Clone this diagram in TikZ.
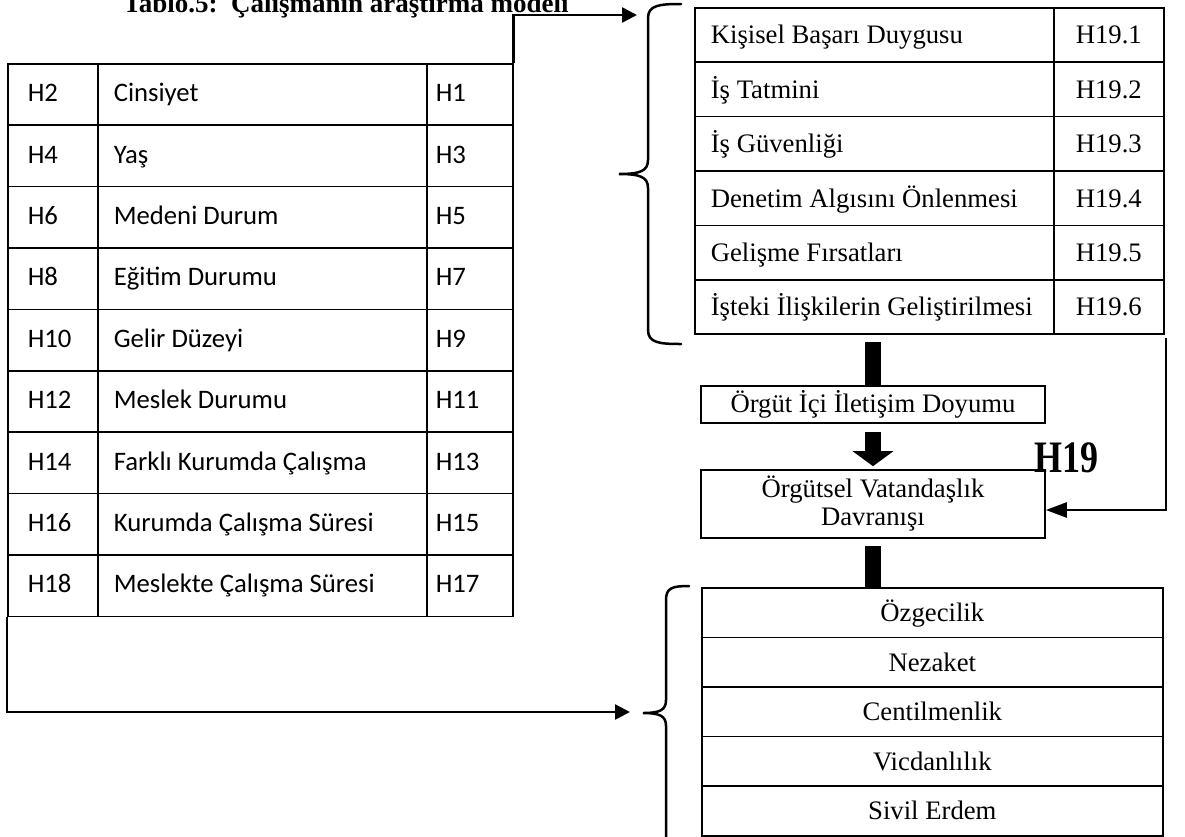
\documentclass[tikz,border=0pt]{standalone}
\usepackage{fontspec}
\usepackage{graphicx}
\setmainfont{Liberation Serif}
\newfontfamily\calfont{Carlito}
\usetikzlibrary{arrows.meta}
\newcommand\natsp{\spaceskip=0pt\relax\xspaceskip=0pt\relax}
\begin{document}
\begin{tikzpicture}[x=1pt,y=-1pt,
  lcell/.style={draw=black, line width=1.6pt, anchor=north west, minimum height=61.4pt, inner ysep=0pt, text height=18pt, text depth=3.6pt, align=left, font=\calfont\fontsize{26.7pt}{30pt}\selectfont},
  rcell/.style={draw=black, line width=1.6pt, anchor=north west, minimum height=54.4pt, inner ysep=0pt, text height=20pt, text depth=2.3pt, font=\fontsize{26.7pt}{30pt}\selectfont},
  bcell/.style={rcell, minimum height=49.6pt, minimum width=461pt, inner xsep=0pt, align=center},
  midbox/.style={draw=black, line width=1.6pt, minimum width=344pt, inner sep=0pt, align=center, font=\fontsize{26.7pt}{28pt}\selectfont},
  conn/.style={line width=2.5pt, -{Triangle[length=15pt,width=15pt]}},
  bar/.style={line width=16pt},
  bracestyle/.style={line width=2.5pt, line cap=round},
]
\useasboundingbox (0,0) rectangle (1185,836);

% title (cut at the top edge, as in the reference)
\node[anchor=base, inner sep=0pt, font=\bfseries\fontsize{27pt}{30pt}\selectfont] (title) at (346,12) {\natsp Tablo.5:\ \ Çalışmanın araştırma modeli};

% left table
\foreach \a/\b/\c [count=\i from 0] in {H2/Cinsiyet/H1, H4/Yaş/H3, H6/Medeni Durum/H5, H8/Eğitim Durumu/H7, H10/Gelir Düzeyi/H9, H12/Meslek Durumu/H11, H14/Farklı Kurumda Çalışma/H13, H16/Kurumda Çalışma Süresi/H15, H18/Meslekte Çalışma Süresi/H17}{
  \node[lcell, inner xsep=20pt, text width=50pt] (la\i) at (7,{63+61.4*\i}) {\a};
  \node[lcell, inner xsep=16pt, text width=297pt] (lb\i) at (97,{63+61.4*\i}) {\natsp\b};
  \node[lcell, inner xsep=9pt, text width=68pt] (lc\i) at (426,{63+61.4*\i}) {\c};
}

% right top table
\foreach \t/\h [count=\i from 0] in {Kişisel Başarı Duygusu/H19.1, İş Tatmini/H19.2, İş Güvenliği/H19.3, Denetim Algısını Önlenmesi/H19.4, Gelişme Fırsatları/H19.5, İşteki İlişkilerin Geliştirilmesi/H19.6}{
  \node[rcell, inner xsep=16pt, text width=327pt, align=left] (rt\i) at (694,{7+54.4*\i}) {\natsp\t};
  \node[rcell, inner xsep=5pt, text width=100pt, align=center] (rh\i) at (1053,{7+54.4*\i}) {\h};
}

% middle boxes
\node[midbox, minimum height=37pt] (oii) at (873,404.5) {\natsp Örgüt İçi İletişim Doyumu};
\node[midbox, minimum height=68pt] (ovd) at (873,504) {\natsp Örgütsel Vatandaşlık\\Davranışı};

\node[inner sep=0pt, font=\bfseries\fontsize{45pt}{45pt}\selectfont] (h19) at (1066,458) {\scalebox{0.8}[1]{H19}};

% bottom table
\foreach \t [count=\i from 0] in {Özgecilik, Nezaket, Centilmenlik, Vicdanlılık, Sivil Erdem}{
  \node[bcell] (bt\i) at (701,{587+49.6*\i}) {\natsp\t};
}

% connectors
\coordinate (tarrow) at (637,15);
\draw[conn] (lc0.north east) |- (tarrow);
\coordinate (larrow) at (630,712);
\draw[conn] (la8.south west) |- (larrow);
\coordinate (rstart) at (1166,338);
\draw[line width=2.5pt, -{Triangle[length=21pt,width=15pt]}] (rstart) |- ([yshift=-6pt]ovd.east);

% thick bars
\coordinate (b1) at (873,342);
\draw[bar] (b1) -- (oii.north);
\coordinate (b2) at (873,432);
\draw[bar, -{Triangle[length=15pt,width=40pt]}] (b2) -- ([yshift=3pt]ovd.north);
\coordinate (b3) at (873,546);
\draw[bar] (b3) -- (b3 |- bt0.north);

% braces
\draw[bracestyle] (681,4) .. controls (660,4) and (648,5) .. (648,18) -- (648,160) .. controls (648,171) and (640,174) .. (619,174) .. controls (640,174) and (648,177) .. (648,188) -- (648,330) .. controls (648,343) and (660,344) .. (681,344);
\draw[bracestyle] (689,586) .. controls (672,586) and (666,588) .. (666,600) -- (666,700) .. controls (666,710) and (660,713) .. (643,713) .. controls (660,713) and (666,716) .. (666,726) -- (666,845);
\end{tikzpicture}
\end{document}
